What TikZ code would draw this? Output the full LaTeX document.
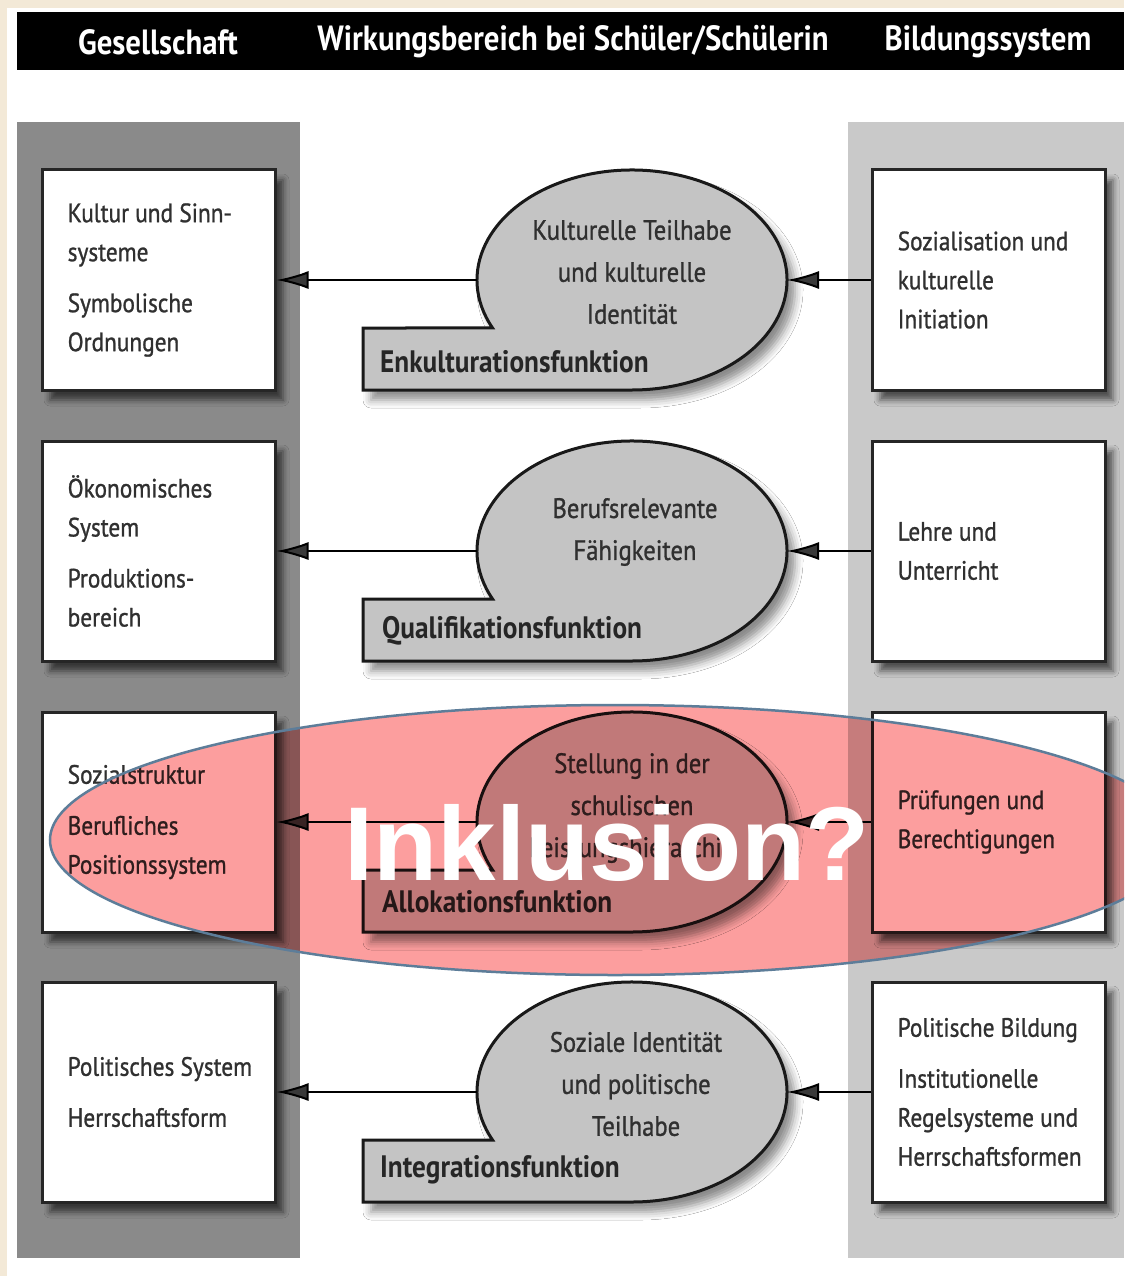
\documentclass[tikz,border=0pt]{standalone}
\usepackage{fontspec}
\setmainfont{PT Sans}[FakeStretch=0.88]
\newfontfamily\txtfont{PT Sans}[FakeStretch=0.88,FakeBold=1]
\newfontfamily\inkfont{Liberation Sans}
\usetikzlibrary{arrows.meta,shadows.blur,calc}
\definecolor{colleft}{RGB}{138,138,138}
\definecolor{colright}{RGB}{201,201,201}
\definecolor{bubblegrey}{RGB}{196,196,196}
\definecolor{slidebeige}{RGB}{243,233,215}
\definecolor{rimblue}{RGB}{93,125,153}
\definecolor{txtgrey}{RGB}{48,48,48}
\definecolor{inkred}{RGB}{252,158,158}

\begin{document}
\begin{tikzpicture}[x=1pt,y=1pt,
  box/.style={draw=black!85,line width=3pt,fill=white,minimum width=233pt,minimum height=220pt,inner sep=0pt,
    blur shadow={shadow xshift=8pt,shadow yshift=-10pt,shadow blur radius=6pt,shadow opacity=60}},
  boxtext/.style={anchor=west,align=left,text=txtgrey,inner sep=0pt,font=\txtfont\fontsize{26.5}{39}\selectfont},
  bubble/.style={draw=black!90,line width=3pt,fill=bubblegrey,
    blur shadow={shadow xshift=8pt,shadow yshift=-10pt,shadow blur radius=8pt,shadow opacity=45}},
  bubtext/.style={align=center,text=txtgrey,inner sep=0pt,font=\txtfont\fontsize{28}{42}\selectfont},
  funclabel/.style={anchor=west,text=black!85,inner sep=0pt,font=\fontsize{31}{31}\selectfont\bfseries},
  headtext/.style={text=white,inner sep=0pt,font=\fontsize{35}{35}\selectfont\bfseries},
  arr/.style={line width=2pt,-{Latex[length=32pt,width=18pt]}}]
\useasboundingbox (0,0) rectangle (1124,-1276);
\clip (0,0) rectangle (1124,-1276);
% slide background
\fill[slidebeige] (0,0) rectangle (1124,-1276);
\fill[white] (7,-8) rectangle (1124,-1276);
% header bar
\fill[black] (17,-12) rectangle (1124,-70);
\node[headtext] (hg) at (158,-42) {Gesellschaft};
\node[headtext] (hw) at (573,-42) {Wirkungsbereich bei Schüler/Schülerin};
\node[headtext] (hb) at (988,-42) {Bildungssystem};
% columns
\fill[colleft] (17,-122) rectangle (300,-1258);
\fill[colright] (848,-122) rectangle (1124,-1258);
% boxes and bubbles
\foreach \i/\c in {1/280,2/551,3/822,4/1092}
{
\node[box] (l\i) at (158.5,-\c) {};
\node[box] (r\i) at (988.5,-\c) {};
\draw[bubble] (632,-\c) ++(205.87:155pt and 110pt)
  arc[start angle=205.87,end angle=-90,x radius=155pt,y radius=110pt]
  -- (363,{-\c-110}) -- (363,{-\c-48}) -- cycle;
\coordinate (be\i) at (787,-\c);
\coordinate (bw\i) at (477,-\c);
}
% left texts
\node[boxtext] (l1t) at ([xshift=27pt]l1.west) {Kultur und Sinn-\\systeme\\[12pt]Symbolische\\Ordnungen};
\node[boxtext] (l2t) at ([xshift=27pt]l2.west) {Ökonomisches\\System\\[12pt]Produktions-\\bereich};
\node[boxtext] (l3t) at ([xshift=27pt]l3.west) {Sozialstruktur\\[12pt]Berufliches\\Positionssystem};
\node[boxtext] (l4t) at ([xshift=27pt]l4.west) {Politisches System\\[12pt]Herrschaftsform};
% right texts
\node[boxtext] (r1t) at ([xshift=27pt]r1.west) {Sozialisation und\\kulturelle\\Initiation};
\node[boxtext] (r2t) at ([xshift=27pt]r2.west) {Lehre und\\Unterricht};
\node[boxtext] (r3t) at ([xshift=27pt]r3.west) {Prüfungen und\\Berechtigungen};
\node[boxtext] (r4t) at ([xshift=27pt]r4.west) {Politische Bildung\\[12pt]Institutionelle\\Regelsysteme und\\Herrschaftsformen};
% bubble texts
\node[bubtext] (b1t) at (632,-272) {Kulturelle Teilhabe\\und kulturelle\\Identität};
\node[bubtext] (b2t) at (635,-532) {Berufsrelevante\\Fähigkeiten};
\node[bubtext] (b3t) at (632,-808) {Stellung in der\\schulischen\\Leistungshierarchie};
\node[bubtext] (b4t) at (636,-1084) {Soziale Identität\\und politische\\Teilhabe};
\node[funclabel] (f1) at (380,-362) {Enkulturationsfunktion};
\node[funclabel] (f2) at (382,-631) {Qualifikationsfunktion};
\node[funclabel] (f3) at (382,-902) {Allokationsfunktion};
\node[funclabel] (f4) at (380,-1170) {Integrationsfunktion};
% arrows
\foreach \i in {1,2,3,4}
{
\draw[arr] (r\i.west) -- (be\i);
\draw[arr] (bw\i) -- (l\i.east);
}
% overlay
\fill[inkred,blend mode=multiply] (615,-840) ellipse [x radius=565pt,y radius=135pt];
\draw[rimblue,line width=2.5pt] (615,-840) ellipse [x radius=565pt,y radius=135pt];
\node[text=white,inner sep=0pt,anchor=base,font=\inkfont\bfseries\fontsize{105}{105}\selectfont] (inkl) at (607,-880) {Inklusion?};
\end{tikzpicture}
\end{document}
